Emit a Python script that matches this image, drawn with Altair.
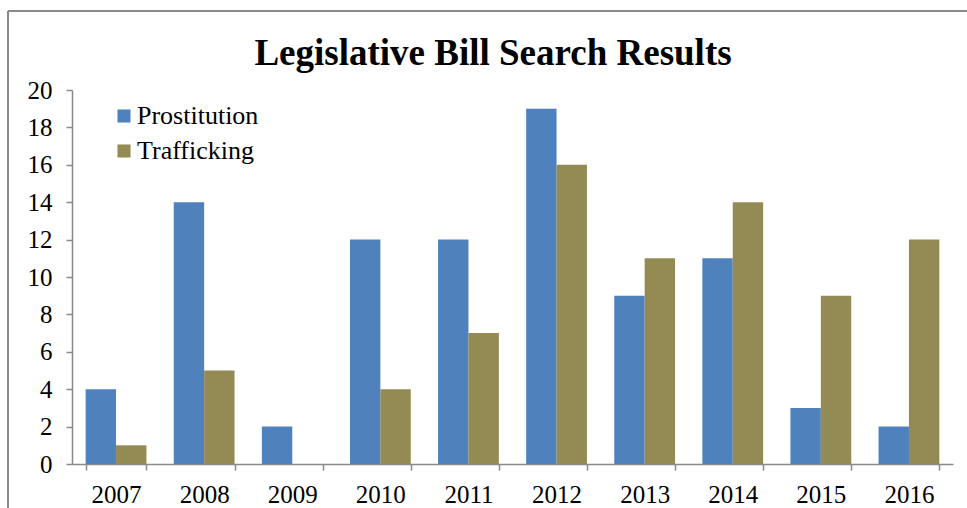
import altair as alt
import pandas as pd

years = ["2007", "2008", "2009", "2010", "2011", "2012", "2013", "2014", "2015", "2016"]
prostitution = [4, 14, 2, 12, 12, 19, 9, 11, 3, 2]
trafficking = [1, 5, 0, 4, 7, 16, 11, 14, 9, 12]
series = ["Prostitution", "Trafficking"]
colors = ["#4F81BD", "#948A54"]
title_text = "Legislative Bill Search Results"

rows = []
for i, y in enumerate(years):
    rows.append({"year": y, "series": series[0], "value": prostitution[i]})
    rows.append({"year": y, "series": series[1], "value": trafficking[i]})
df = pd.DataFrame(rows)

FONT = "Liberation Serif"
W, H = 881, 374

bars = alt.Chart(df).mark_bar().encode(
    x=alt.X("year:N", sort=years,
            scale=alt.Scale(paddingInner=0.31, paddingOuter=0.155),
            axis=alt.Axis(title=None, labelAngle=0, labelFont=FONT, labelFontSize=25,
                          labelColor="black", labelPadding=12, tickBand="extent",
                          tickSize=6, tickColor="#898989", domainColor="#898989",
                          domainWidth=1.5, tickWidth=1.5)),
    xOffset=alt.XOffset("series:N", sort=series, scale=alt.Scale(paddingInner=0, paddingOuter=0)),
    y=alt.Y("value:Q", scale=alt.Scale(domain=[0, 20], nice=False),
            axis=alt.Axis(title=None, values=list(range(0, 21, 2)), grid=False,
                          labelFont=FONT, labelFontSize=25, labelColor="black",
                          labelPadding=14, tickSize=6, tickColor="#898989",
                          domainColor="#898989", domainWidth=1.5, tickWidth=1.5)),
    color=alt.Color("series:N", sort=series,
                    scale=alt.Scale(domain=series, range=colors),
                    legend=alt.Legend(title=None, orient="none", legendX=39, legendY=13,
                                      symbolType="square", symbolSize=170,
                                      symbolStrokeWidth=0, labelFont=FONT,
                                      labelFontSize=26, labelColor="black",
                                      rowPadding=9, labelOffset=0)),
)

frame_left = alt.Chart(df).mark_rule(color="#8a8a8a", strokeWidth=1.5, clip=False).encode(
    x=alt.value(-64), y=alt.value(-79), y2=alt.value(H + 60))
frame_top = alt.Chart(df).mark_rule(color="#8a8a8a", strokeWidth=1.5, clip=False).encode(
    x=alt.value(-64), x2=alt.value(W + 30), y=alt.value(-79))

title = alt.Chart(pd.DataFrame({"t": [title_text]})).mark_text(
    font=FONT, fontSize=37, fontWeight="bold", color="black",
    align="center", baseline="alphabetic", clip=False
).encode(x=alt.value(421), y=alt.value(-25), text="t:N")

chart = alt.layer(frame_left, frame_top, bars, title).properties(
    width=W, height=H,
    padding={"left": 72, "top": 90, "right": 14, "bottom": 44},
    autosize=alt.AutoSizeParams(type="none"),
).configure(background="white", font=FONT).configure_view(strokeWidth=0, stroke=None)

chart.save("out.html", embed_options={"renderer": "svg", "actions": False})
